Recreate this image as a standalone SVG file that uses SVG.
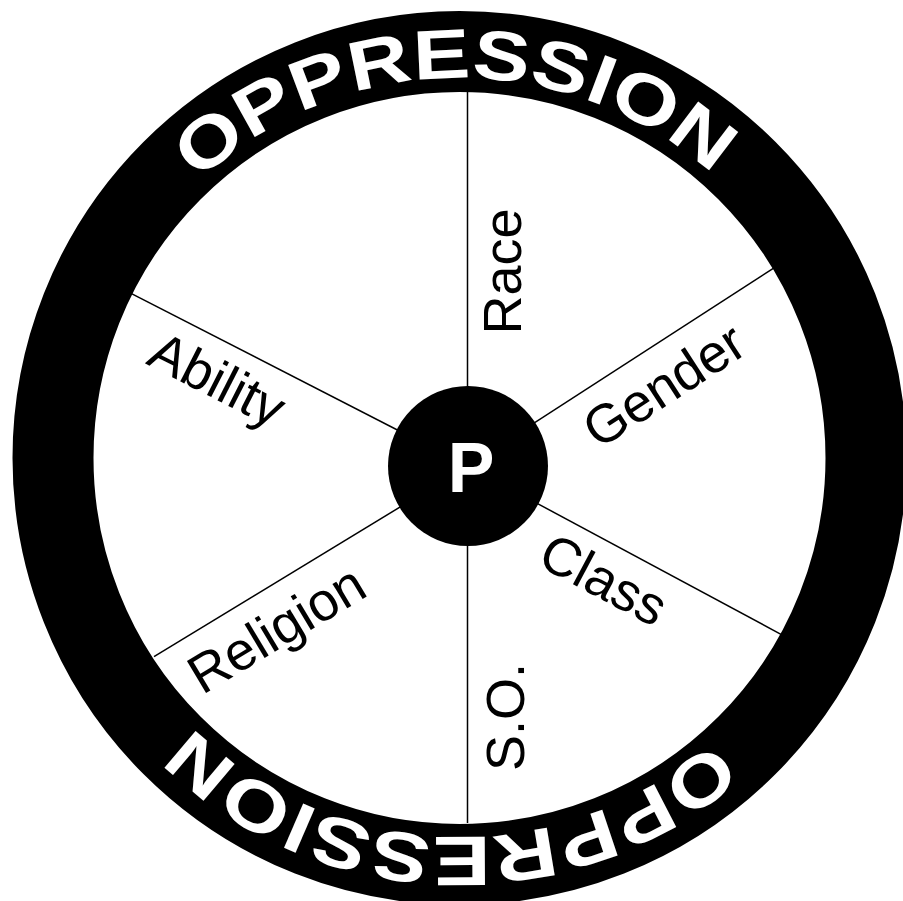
<svg xmlns="http://www.w3.org/2000/svg" xmlns:xlink="http://www.w3.org/1999/xlink" width="903" height="901" viewBox="0 0 903 901">
  <style>
    .ring { fill: none; stroke: #000; stroke-width: 81; }
    .spoke { stroke: #000; stroke-width: 1.5; fill: none; }
    .ringtext { font-family: "Liberation Sans", Arial, sans-serif; font-weight: bold; font-size: 70px; fill: #fff; }
    .label { font-family: "Liberation Sans", Arial, sans-serif; font-size: 54px; fill: #000; }
    .hub { fill: #000; }
    .hubtext { font-family: "Liberation Sans", Arial, sans-serif; font-weight: bold; font-size: 70px; fill: #fff; text-anchor: middle; }
  </style>
  <defs>
    <path id="arcTop" d="M 198.4 181.9 A 380 380 0 0 1 712.8 174.7"/>
    <path id="arcBottom" d="M 196.7 184.9 A 379 379 0 0 1 718 180.8"/>
  </defs>
  <rect x="0" y="0" width="903" height="901" fill="#fff"/>

  <g id="wheel">
    <circle class="ring" cx="459.5" cy="458" r="406.5"/>
  </g>

  <g id="connectors">
    <line class="spoke" x1="467.5" y1="92" x2="467.5" y2="466"/>
    <line class="spoke" x1="467.5" y1="466" x2="467.5" y2="823"/>
    <line class="spoke" x1="131" y1="293.3" x2="467.5" y2="466"/>
    <line class="spoke" x1="773.3" y1="268.3" x2="467.5" y2="466"/>
    <line class="spoke" x1="154" y1="656.7" x2="467.5" y2="466"/>
    <line class="spoke" x1="781" y1="634.3" x2="467.5" y2="466"/>
  </g>

  <g id="oppression-top">
    <text class="ringtext"><textPath xlink:href="#arcTop" href="#arcTop" textLength="565" lengthAdjust="spacingAndGlyphs">OPPRESSION</textPath></text>
  </g>
  <g id="oppression-bottom" transform="rotate(182 459.5 458)">
    <text class="ringtext"><textPath xlink:href="#arcBottom" href="#arcBottom" textLength="574" lengthAdjust="spacingAndGlyphs">OPPRESSION</textPath></text>
  </g>

  <g id="node-p">
    <circle class="hub" cx="468" cy="466" r="80"/>
    <text class="hubtext" x="471" y="491.5">P</text>
  </g>

  <g id="node-race">
    <text class="label" text-anchor="middle" transform="translate(521 271.5) rotate(-90)">Race</text>
  </g>
  <g id="node-gender">
    <text class="label" text-anchor="middle" transform="translate(674 401) rotate(-33)">Gender</text>
  </g>
  <g id="node-class">
    <text class="label" text-anchor="middle" transform="translate(595 596) rotate(28)">Class</text>
  </g>
  <g id="node-so">
    <text class="label" text-anchor="middle" transform="translate(524 717) rotate(-90)">S.O.</text>
  </g>
  <g id="node-religion">
    <text class="label" text-anchor="middle" transform="translate(286 645) rotate(-31)">Religion</text>
  </g>
  <g id="node-ability">
    <text class="label" text-anchor="middle" transform="translate(209 396) rotate(27)">Ability</text>
  </g>
</svg>
